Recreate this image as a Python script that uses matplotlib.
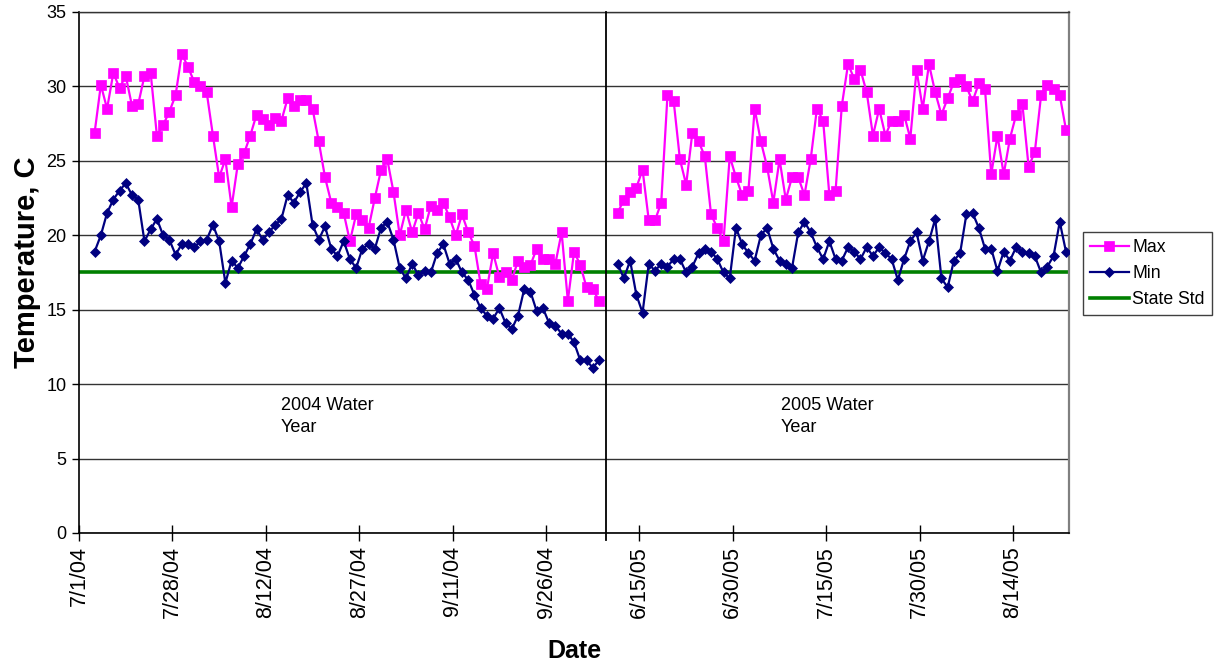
import numpy as np
import matplotlib
matplotlib.use('Agg')
import matplotlib.pyplot as plt

plt.rcParams['font.family'] = ['Liberation Sans', 'DejaVu Sans']

# daily max / min water temperature, two field seasons
MAX_2004 = [26.9, 30.1, 28.5, 30.9, 29.9, 30.7, 28.7, 28.8, 30.7, 30.9,
            26.7, 27.4, 28.3, 29.4, 32.2, 31.3, 30.3, 30.0, 29.6, 26.7,
            23.9, 25.1, 21.9, 24.8, 25.5, 26.7, 28.1, 27.8, 27.4, 27.9,
            27.7, 29.2, 28.7, 29.1, 29.1, 28.5, 26.3, 23.9, 22.2, 21.9,
            21.5, 19.6, 21.4, 21.0, 20.5, 22.5, 24.4, 25.1, 22.9, 20.0,
            21.7, 20.2, 21.5, 20.4, 22.0, 21.7, 22.2, 21.2, 20.0, 21.4,
            20.2, 19.3, 16.7, 16.4, 18.8, 17.2, 17.5, 17.0, 18.3, 17.9,
            18.0, 19.1, 18.4, 18.4, 18.1, 20.2, 15.6, 18.9, 18.0, 16.5,
            16.4, 15.6]
MIN_2004 = [18.9, 20.0, 21.5, 22.4, 23.0, 23.5, 22.7, 22.4, 19.6, 20.4,
            21.1, 20.0, 19.7, 18.7, 19.4, 19.4, 19.2, 19.6, 19.7, 20.7,
            19.6, 16.8, 18.3, 17.8, 18.6, 19.4, 20.4, 19.7, 20.2, 20.7,
            21.1, 22.7, 22.2, 22.9, 23.5, 20.7, 19.7, 20.6, 19.1, 18.6,
            19.6, 18.4, 17.8, 19.1, 19.4, 19.1, 20.5, 20.9, 19.7, 17.8,
            17.1, 18.1, 17.3, 17.6, 17.5, 18.8, 19.4, 18.1, 18.4, 17.5,
            17.0, 16.0, 15.1, 14.6, 14.4, 15.1, 14.1, 13.7, 14.6, 16.4,
            16.2, 14.9, 15.1, 14.1, 13.9, 13.4, 13.4, 12.8, 11.6, 11.6,
            11.1, 11.6]
MAX_2005 = [21.5, 22.4, 22.9, 23.2, 24.4, 21.0, 21.0, 22.2, 29.4, 29.0,
            25.1, 23.4, 26.9, 26.3, 25.3, 21.4, 20.5, 19.6, 25.3, 23.9,
            22.7, 23.0, 28.5, 26.3, 24.6, 22.2, 25.1, 22.4, 23.9, 23.9,
            22.7, 25.1, 28.5, 27.7, 22.7, 23.0, 28.7, 31.5, 30.5, 31.1,
            29.6, 26.7, 28.5, 26.7, 27.7, 27.7, 28.1, 26.5, 31.1, 28.5,
            31.5, 29.6, 28.1, 29.2, 30.3, 30.5, 30.0, 29.0, 30.2, 29.8,
            24.1, 26.7, 24.1, 26.5, 28.1, 28.8, 24.6, 25.6, 29.4, 30.1,
            29.8, 29.4, 27.1]
MIN_2005 = [18.1, 17.1, 18.3, 16.0, 14.8, 18.1, 17.6, 18.1, 17.9, 18.4,
            18.4, 17.5, 17.9, 18.8, 19.1, 18.9, 18.4, 17.5, 17.1, 20.5,
            19.4, 18.8, 18.3, 20.0, 20.5, 19.1, 18.3, 18.1, 17.8, 20.2,
            20.9, 20.2, 19.2, 18.4, 19.6, 18.4, 18.3, 19.2, 18.9, 18.4,
            19.2, 18.6, 19.2, 18.8, 18.4, 17.0, 18.4, 19.6, 20.2, 18.3,
            19.6, 21.1, 17.1, 16.5, 18.3, 18.8, 21.4, 21.5, 20.5, 19.1,
            19.1, 17.6, 18.9, 18.3, 19.2, 18.9, 18.8, 18.6, 17.5, 17.9,
            18.6, 20.9, 18.9]
STATE_STD = 17.5

TICK_LABELS = ['7/1/04', '7/28/04', '8/12/04', '8/27/04', '9/11/04', '9/26/04',
               '6/15/05', '6/30/05', '7/15/05', '7/30/05', '8/14/05']

# category axis: 159 slots, data sit in the middle of each slot
N_SLOTS = 159
START_04 = 2.5
START_05 = 86.5
DIVIDER = 84.6

MAGENTA = '#ff00ff'
NAVY = '#000080'
GREEN = '#008000'

x04 = START_04 + np.arange(len(MAX_2004))
x05 = START_05 + np.arange(len(MAX_2005))

fig = plt.figure(figsize=(12.2, 6.66), dpi=100)
ax = fig.add_axes([0.0648, 0.1997, 0.8115, 0.7823])

ax.axhline(STATE_STD, color=GREEN, lw=2.6, zorder=2, label='State Std')

max_style = dict(color=MAGENTA, lw=1.6, marker='s', ms=7.2, mec=MAGENTA, mew=0.5, zorder=3)
min_style = dict(color=NAVY, lw=1.6, marker='D', ms=5.4, mec=NAVY, mew=0.5, zorder=4)
ax.plot(x04, MAX_2004, label='Max', **max_style)
ax.plot(x05, MAX_2005, **max_style)
ax.plot(x04, MIN_2004, label='Min', **min_style)
ax.plot(x05, MIN_2005, **min_style)

# year divider, runs a touch below the axis like in the original
ax.axvline(DIVIDER, ymin=-0.014, ymax=1, color='black', lw=1.3, clip_on=False, zorder=5)

ax.text(32.4, 7.85, '2004 Water\nYear', fontsize=13, ha='left', va='center', linespacing=1.4)
ax.text(112.7, 7.85, '2005 Water\nYear', fontsize=13, ha='left', va='center', linespacing=1.4)

ax.set_xlim(0, N_SLOTS)
ax.set_ylim(0, 35)
ax.set_yticks(np.arange(0, 36, 5))
ax.set_xticks(np.arange(0, 151, 15))
ax.set_xticklabels(TICK_LABELS, rotation=90, fontsize=15.5)
ax.tick_params(axis='y', labelsize=13, direction='out', length=5, width=1, pad=4)
ax.tick_params(axis='x', direction='inout', length=11, width=1, pad=4)

ax.grid(axis='y', color='#333333', lw=1)
ax.set_axisbelow(True)

for side in ['left', 'bottom']:
    ax.spines[side].set_color('black')
    ax.spines[side].set_linewidth(1.2)
ax.spines['top'].set_color('#333333')
ax.spines['top'].set_linewidth(1)
ax.spines['right'].set_color('#808080')
ax.spines['right'].set_linewidth(1.6)

ax.set_xlabel('Date', fontsize=18, fontweight='bold', va='top')
ax.xaxis.set_label_coords(0.5, -0.203)
ax.set_ylabel('Temperature, C', fontsize=21, fontweight='bold')
ax.yaxis.set_label_coords(-0.038, 0.52)

handles, labels = ax.get_legend_handles_labels()
order = [labels.index(n) for n in ['Max', 'Min', 'State Std']]
leg = ax.legend([handles[i] for i in order], [labels[i] for i in order],
                loc='upper left', bbox_to_anchor=(1083 / 1220, 1 - 232 / 666),
                bbox_transform=fig.transFigure, borderaxespad=0, fontsize=12.7,
                frameon=True, fancybox=False, edgecolor='#404040', framealpha=1,
                handlelength=2.2, handletextpad=0.2, labelspacing=0.5, borderpad=0.4)
leg.get_frame().set_linewidth(1)

fig.savefig('out.png', dpi=100)
